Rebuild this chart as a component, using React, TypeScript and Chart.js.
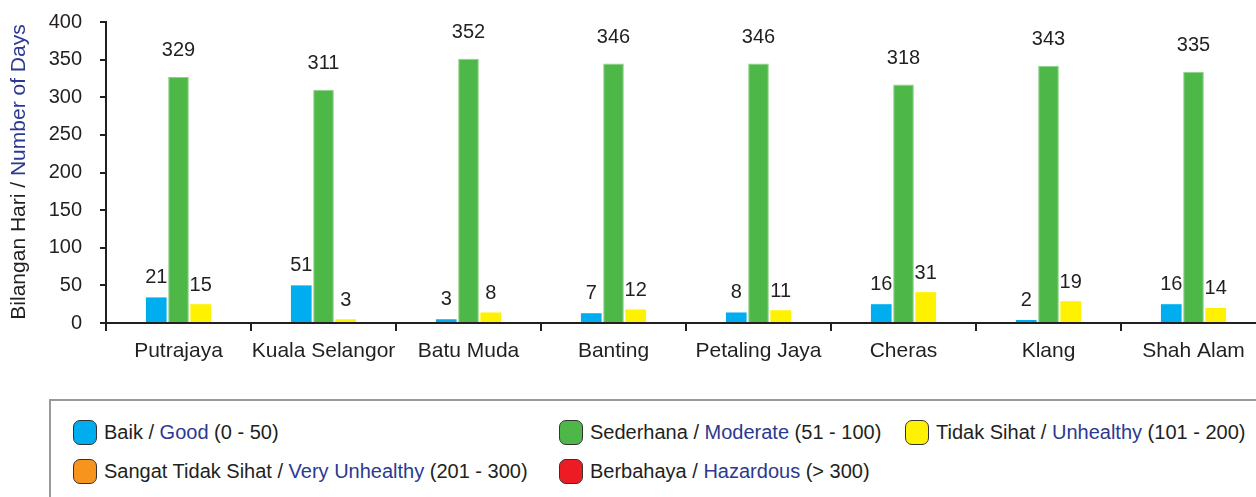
import React, { useEffect, useRef } from "react";
import { Chart, registerables } from "chart.js";

Chart.register(...registerables);

const categories = ["Putrajaya", "Kuala Selangor", "Batu Muda", "Banting", "Petaling Jaya", "Cheras", "Klang", "Shah Alam"];
// bar heights as drawn in the picture
const goodBars = [34, 50, 5, 13, 14, 25, 4, 25];
const moderateBars = [327, 310, 351, 345, 345, 317, 342, 334];
const unhealthyBars = [25, 5, 14, 18, 17, 41, 29, 20];
// printed value labels
const goodLabels = [21, 51, 3, 7, 8, 16, 2, 16];
const moderateLabels = [329, 311, 352, 346, 346, 318, 343, 335];
const unhealthyLabels = [15, 3, 8, 12, 11, 31, 19, 14];
const yTicks = [0, 50, 100, 150, 200, 250, 300, 350, 400];

const FONT = '"Liberation Sans", Arial, Helvetica, sans-serif';
const TEXT = "#231F20";
const BLUE_TEXT = "#2B3990";

const legendItems = [
  { color: "#00AEEF", malay: "Baik", english: "Good", range: "(0 - 50)", left: 73, top: 419 },
  { color: "#4DB848", malay: "Sederhana", english: "Moderate", range: "(51 - 100)", left: 559, top: 419 },
  { color: "#FFF200", malay: "Tidak Sihat", english: "Unhealthy", range: "(101 - 200)", left: 905, top: 419 },
  { color: "#F7941D", malay: "Sangat Tidak Sihat", english: "Very Unhealthy", range: "(201 - 300)", left: 73, top: 458 },
  { color: "#ED1C24", malay: "Berbahaya", english: "Hazardous", range: "(> 300)", left: 559, top: 458 },
];

const labelPlugin = {
  id: "valueLabels",
  afterDatasetsDraw(chart: any) {
    const ctx = chart.ctx;
    ctx.save();
    ctx.font = `20px ${FONT}`;
    ctx.fillStyle = TEXT;
    ctx.textAlign = "center";
    ctx.textBaseline = "middle";
    chart.data.datasets.forEach((ds: any, di: number) => {
      const meta = chart.getDatasetMeta(di);
      meta.data.forEach((el: any, i: number) => {
        ctx.fillText(String(ds.valueLabels[i]), el.x, el.y - ds.labelOffset);
      });
    });
    ctx.restore();
  },
};

const titlePlugin = {
  id: "yTitle",
  afterDraw(chart: any) {
    const ctx = chart.ctx;
    ctx.save();
    ctx.font = `21px ${FONT}`;
    const a = "Bilangan Hari / ";
    const b = "Number of Days";
    const wa = ctx.measureText(a).width;
    const wb = ctx.measureText(b).width;
    const total = wa + wb;
    ctx.translate(19, 172);
    ctx.rotate(-Math.PI / 2);
    ctx.textBaseline = "middle";
    ctx.textAlign = "left";
    ctx.fillStyle = TEXT;
    ctx.fillText(a, -total / 2, 0);
    ctx.fillStyle = BLUE_TEXT;
    ctx.fillText(b, -total / 2 + wa, 0);
    ctx.restore();
  },
};

export default function App() {
  const ref = useRef<HTMLCanvasElement | null>(null);

  useEffect(() => {
    if (!ref.current) return;
    const common = { categoryPercentage: 0.46, barPercentage: 0.93 };
    const chart = new Chart(ref.current, {
      type: "bar",
      data: {
        labels: categories,
        datasets: [
          { label: "Baik / Good", data: goodBars, backgroundColor: "#00AEEF", valueLabels: goodLabels, labelOffset: 20, ...common } as any,
          { label: "Sederhana / Moderate", data: moderateBars, backgroundColor: "#4DB848", borderColor: "#8fd08a", borderWidth: 1, valueLabels: moderateLabels, labelOffset: 26, ...common } as any,
          { label: "Tidak Sihat / Unhealthy", data: unhealthyBars, backgroundColor: "#FFF200", valueLabels: unhealthyLabels, labelOffset: 19, ...common } as any,
        ],
      },
      options: {
        animation: false,
        responsive: true,
        maintainAspectRatio: false,
        layout: { padding: { top: 22, right: 4, left: 0, bottom: 0 } },
        plugins: { legend: { display: false }, tooltip: { enabled: false } },
        scales: {
          x: {
            afterFit: (s: any) => { s.height = 57; },
            grid: { display: true, drawOnChartArea: false, drawTicks: true, tickLength: 8, offset: true, color: TEXT, lineWidth: 2 },
            border: { display: true, color: TEXT, width: 2 },
            ticks: { color: TEXT, font: { family: FONT, size: 21 }, padding: 8, maxRotation: 0, autoSkip: false },
          },
          y: {
            min: 0,
            max: 400,
            afterFit: (s: any) => { s.width = 106; s.paddingTop = 0; s.paddingBottom = 0; },
            afterBuildTicks: (s: any) => { s.ticks = yTicks.map((v) => ({ value: v })); },
            grid: { display: true, drawOnChartArea: false, drawTicks: true, tickLength: 6, color: TEXT, lineWidth: 2 },
            border: { display: true, color: TEXT, width: 2 },
            ticks: { color: TEXT, font: { family: FONT, size: 20 }, padding: 18 },
          },
        },
      },
      plugins: [labelPlugin, titlePlugin],
    } as any);
    return () => chart.destroy();
  }, []);

  return (
    <div style={{ position: "fixed", left: 0, top: 0, width: 1256, height: 497, overflow: "hidden", background: "#fff", fontFamily: FONT }}>
      <div style={{ position: "absolute", left: 0, top: 0, width: 1270, height: 380 }}>
        <canvas ref={ref} />
      </div>
      <div style={{ position: "absolute", left: 49, top: 399, width: 1300, height: 200, border: "2px solid #9a9a9a", boxSizing: "border-box" }} />
      {legendItems.map((it) => (
        <div key={it.english} style={{ position: "absolute", left: it.left, top: it.top, height: 26, display: "flex", alignItems: "center", whiteSpace: "nowrap" }}>
          <div style={{ width: 24, height: 25, borderRadius: 7, background: it.color, border: "1px solid #333", boxSizing: "border-box", marginRight: 7 }} />
          <span style={{ fontSize: 20, color: TEXT }}>
            {it.malay} / <span style={{ color: BLUE_TEXT }}>{it.english}</span> {it.range}
          </span>
        </div>
      ))}
    </div>
  );
}
